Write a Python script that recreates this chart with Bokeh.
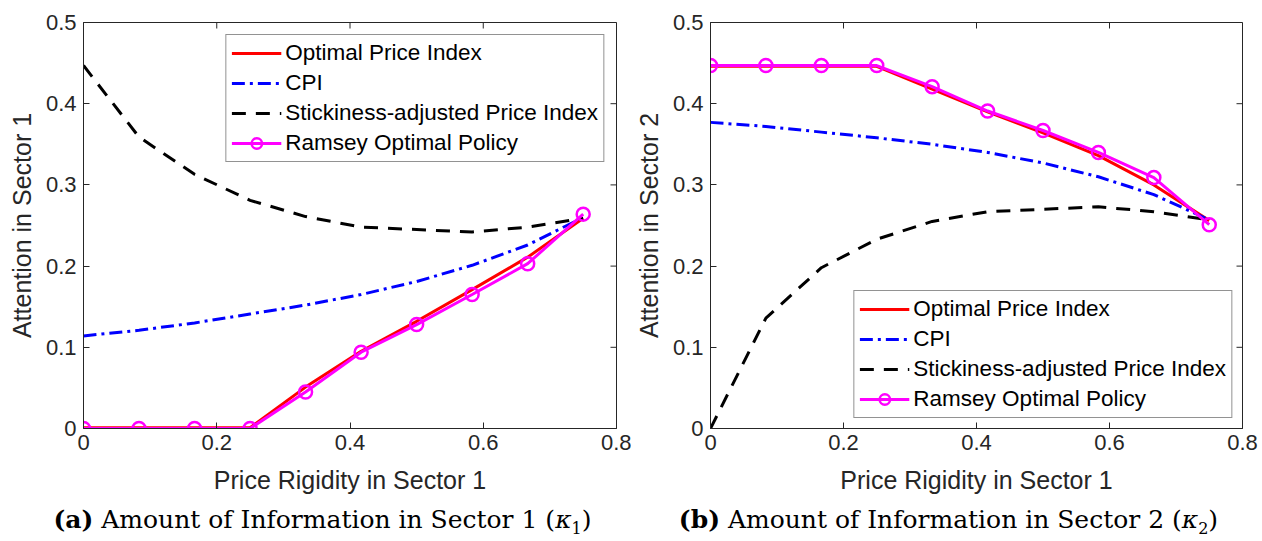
import math
from bokeh.plotting import figure
from bokeh.models import Legend, LegendItem, FixedTicker, Range1d, Div
from bokeh.layouts import row, column
from bokeh.embed import file_html
from bokeh.resources import INLINE

# ---------------- data ----------------
rigidity = [0.0, 0.0833, 0.1667, 0.25, 0.3333, 0.4167, 0.5, 0.5833, 0.6667, 0.75]

s1_optimal = [0.001, 0.001, 0.001, 0.001, 0.051, 0.095, 0.132, 0.171, 0.211, 0.259]
s1_cpi = [0.114, 0.121, 0.130, 0.141, 0.152, 0.165, 0.181, 0.201, 0.226, 0.260]
s1_sticky = [0.447, 0.359, 0.313, 0.281, 0.261, 0.248, 0.245, 0.242, 0.248, 0.259]
s1_ramsey = [0.0, 0.0, 0.0, 0.0, 0.045, 0.094, 0.128, 0.165, 0.203, 0.264]

s2_optimal = [0.446, 0.446, 0.446, 0.446, 0.418, 0.390, 0.364, 0.336, 0.300, 0.256]
s2_cpi = [0.377, 0.372, 0.365, 0.358, 0.350, 0.340, 0.327, 0.310, 0.288, 0.257]
s2_sticky = [0.0, 0.136, 0.198, 0.233, 0.255, 0.267, 0.270, 0.273, 0.267, 0.257]
s2_ramsey = [0.447, 0.447, 0.447, 0.447, 0.421, 0.391, 0.367, 0.340, 0.309, 0.251]

series_names = ["Optimal Price Index", "CPI", "Stickiness-adjusted Price Index", "Ramsey Optimal Policy"]

x_limits = (0, 0.8)
y_limits = (0, 0.5)
xticks = [0, 0.2, 0.4, 0.6, 0.8]
xtick_labels = ["0", "0.2", "0.4", "0.6", "0.8"]
yticks = [0, 0.1, 0.2, 0.3, 0.4, 0.5]
ytick_labels = ["0", "0.1", "0.2", "0.3", "0.4", "0.5"]

x_label = "Price Rigidity in Sector 1"
y_labels = ["Attention in Sector 1", "Attention in Sector 2"]
captions = [("(a)", "Amount of Information in Sector 1 (", "1", ")"),
            ("(b)", "Amount of Information in Sector 2 (", "2", ")")]

SANS = "Liberation Sans"
AX = "#262626"


def make_panel(ylab, opt, cpi, sticky, ramsey, legend_loc, legend_margin,
               bl, br):
    p = figure(width=631, height=503, output_backend="svg", toolbar_location=None,
               x_range=Range1d(*x_limits), y_range=Range1d(*y_limits),
               min_border_left=bl, min_border_right=br, min_border_top=22,
               min_border_bottom=75)
    p.grid.visible = False
    p.outline_line_color = AX
    p.outline_line_width = 1
    p.background_fill_color = "white"
    p.border_fill_color = "white"

    for ax, ticks, labels in ((p.xaxis[0], xticks, xtick_labels),
                              (p.yaxis[0], yticks, ytick_labels)):
        ax.ticker = FixedTicker(ticks=ticks)
        ax.major_label_overrides = {t: l for t, l in zip(ticks, labels)}
        ax.minor_tick_line_color = None
        ax.major_tick_in = 6
        ax.major_tick_out = 0
        ax.axis_line_color = AX
        ax.major_tick_line_color = AX
        ax.major_label_text_font = SANS
        ax.major_label_text_font_size = "22px"
        ax.major_label_text_color = AX
        ax.axis_label_text_font = SANS
        ax.axis_label_text_font_size = "25px"
        ax.axis_label_text_font_style = "normal"
        ax.axis_label_text_color = AX
    p.xaxis.axis_label = x_label
    p.yaxis.axis_label = ylab
    p.xaxis.major_label_standoff = 6
    p.xaxis.axis_label_standoff = 13
    p.yaxis.major_label_standoff = 7
    p.yaxis.axis_label_standoff = 7

    # box ticks on the top and right edges (MATLAB "box on")
    p.ray(x=xticks, y=[y_limits[1]] * len(xticks), length=6, angle=-math.pi / 2,
          length_units="screen", line_color=AX, line_width=1)
    p.ray(x=[x_limits[1]] * len(yticks), y=yticks, length=6, angle=math.pi,
          length_units="screen", line_color=AX, line_width=1)

    r_opt = p.line(rigidity, opt, line_color="#ff0000", line_width=3)
    r_cpi = p.line(rigidity, cpi, line_color="#0000ff", line_width=3,
                   line_dash="13 5 3 5")
    r_st = p.line(rigidity, sticky, line_color="#000000", line_width=3,
                  line_dash="14 10")
    r_ram = p.line(rigidity, ramsey, line_color="#ff00ff", line_width=3)
    r_ram_m = p.scatter(rigidity, ramsey, marker="circle", size=13,
                        line_color="#ff00ff", line_width=2.5, fill_alpha=0)

    items = [LegendItem(label=series_names[0], renderers=[r_opt]),
             LegendItem(label=series_names[1], renderers=[r_cpi]),
             LegendItem(label=series_names[2], renderers=[r_st]),
             LegendItem(label=series_names[3], renderers=[r_ram, r_ram_m])]
    leg = Legend(items=items, location=legend_loc, margin=legend_margin,
                 glyph_width=50, glyph_height=26, label_height=26,
                 label_standoff=4, spacing=4, padding=5,
                 label_text_font=SANS, label_text_font_size="22.5px",
                 label_text_color="#000000",
                 border_line_color=AX, border_line_width=1,
                 background_fill_color="white", background_fill_alpha=1)
    p.add_layout(leg, "center")
    return p


def make_caption(parts, shift):
    bold, main, sub, close = parts
    html = ('<div style="position:relative; left:%dpx; width:631px; text-align:center; '
            'font-family:\'DejaVu Serif\'; font-size:25px; line-height:34px; color:#000;">'
            '<b>%s</b> %s<i>&kappa;</i><sub style="font-size:16px;">%s</sub>%s</div>'
            % (shift, bold, main, sub, close))
    return Div(text=html, width=631, height=38, margin=(0, 0, 0, 0))


p1 = make_panel(y_labels[0], s1_optimal, s1_cpi, s1_sticky, s1_ramsey,
                "top_right", 12, 83, 15)
p2 = make_panel(y_labels[1], s2_optimal, s2_cpi, s2_sticky, s2_ramsey,
                "bottom_right", 10, 77, 20)

c1 = make_caption(captions[0], 7)
c2 = make_caption(captions[1], 2)

layout = row(column(p1, c1, spacing=0), column(p2, c2, spacing=0), spacing=0)

open("out.html", "w").write(file_html(layout, INLINE))
